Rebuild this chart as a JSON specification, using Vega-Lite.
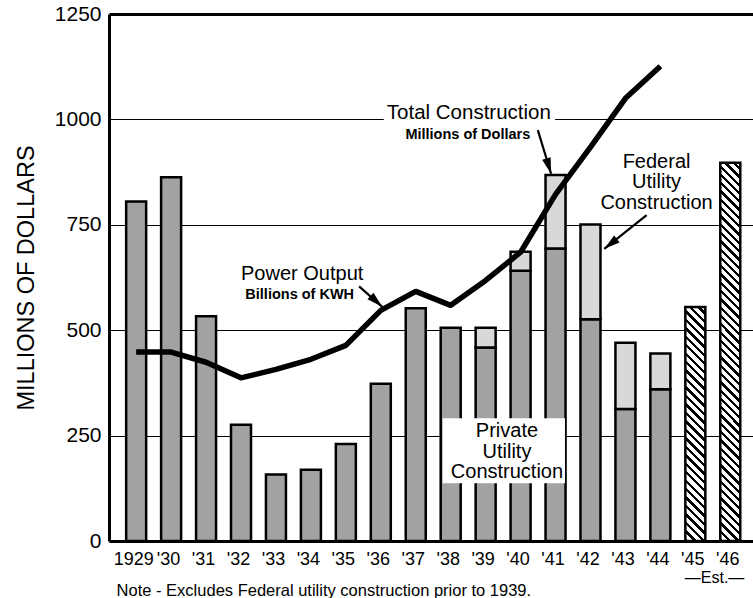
{
  "$schema": "https://vega.github.io/schema/vega-lite/v6.json",
  "width": 644,
  "height": 527,
  "autosize": "none",
  "padding": {"left": 109, "top": 14, "right": 0, "bottom": 57},
  "config": {"view": {"stroke": null}, "font": "Liberation Sans"},
  "data": {"values": [
    {"year": 1929, "private": 805, "total": 805, "power": 448},
    {"year": 1930, "private": 863, "total": 863, "power": 448},
    {"year": 1931, "private": 533, "total": 533, "power": 424},
    {"year": 1932, "private": 276, "total": 276, "power": 387},
    {"year": 1933, "private": 158, "total": 158, "power": 407},
    {"year": 1934, "private": 169, "total": 169, "power": 431},
    {"year": 1935, "private": 230, "total": 230, "power": 464},
    {"year": 1936, "private": 373, "total": 373, "power": 547},
    {"year": 1937, "private": 552, "total": 552, "power": 592},
    {"year": 1938, "private": 506, "total": 506, "power": 559},
    {"year": 1939, "private": 459, "total": 506, "power": 618},
    {"year": 1940, "private": 641, "total": 686, "power": 685},
    {"year": 1941, "private": 694, "total": 868, "power": 822},
    {"year": 1942, "private": 526, "total": 751, "power": 934},
    {"year": 1943, "private": 313, "total": 470, "power": 1050},
    {"year": 1944, "private": 360, "total": 445, "power": 1126},
    {"year": 1945, "est": 555},
    {"year": 1946, "est": 897}
  ]},
  "encoding": {
    "x": {
      "field": "year", "type": "quantitative",
      "scale": {"domain": [1928.366, 1946.507], "nice": false, "zero": false},
      "axis": {
        "values": [1929,1930,1931,1932,1933,1934,1935,1936,1937,1938,1939,1940,1941,1942,1943,1944,1945,1946],
        "labelExpr": "datum.value == 1929 ? '1929' : \"'\" + substring(toString(datum.value), 2, 4)",
        "title": null, "grid": false, "ticks": false,
        "domainColor": "black", "domainWidth": 3,
        "labelFontSize": 18, "labelColor": "black", "labelPadding": 9,
        "labelFlush": false, "labelOverlap": false, "labelBound": false, "labelOffset": -3
      }
    },
    "y": {
      "field": "private", "type": "quantitative", "stack": null,
      "scale": {"domain": [0, 1250], "nice": false},
      "axis": {
        "values": [0, 250, 500, 750, 1000, 1250], "format": "d",
        "title": "MILLIONS OF DOLLARS", "titleFontSize": 23.5, "titleFontWeight": "normal", "titleColor": "black", "titlePadding": 16,
        "grid": true, "gridColor": "black", "gridOpacity": 1,
        "gridWidth": {"condition": {"test": "datum.value == 1250", "value": 3}, "value": 1},
        "ticks": false, "domainColor": "black", "domainWidth": 3,
        "labelFontSize": 21, "labelColor": "black", "labelPadding": 8, "labelFlush": false
      }
    }
  },
  "layer": [
    {
      "transform": [{"filter": "datum.private != null"}],
      "mark": {"type": "bar", "width": 20, "fill": "#a2a2a2", "stroke": "black", "strokeWidth": 2.5}
    },
    {
      "transform": [{"filter": "datum.total > datum.private"}],
      "mark": {"type": "bar", "width": 20, "fill": "#d8d8d8", "stroke": "black", "strokeWidth": 2.5},
      "encoding": {
        "y2": {"field": "total"}
      }
    },
    {
      "transform": [{"filter": "datum.year == 1945"}],
      "mark": {"type": "bar", "width": 20, "stroke": "black", "strokeWidth": 2.5,
        "fill": {"gradient": "linear", "x1": 0, "y1": 1, "x2": 0.09218, "y2": -0.0776, "stops": [
          {"offset": 0, "color": "#000"}, {"offset": 0.0133, "color": "#000"}, {"offset": 0.0133, "color": "#fff"}, {"offset": 0.0333, "color": "#fff"},
          {"offset": 0.0333, "color": "#000"}, {"offset": 0.0467, "color": "#000"}, {"offset": 0.0467, "color": "#fff"}, {"offset": 0.0667, "color": "#fff"},
          {"offset": 0.0667, "color": "#000"}, {"offset": 0.08, "color": "#000"}, {"offset": 0.08, "color": "#fff"}, {"offset": 0.1, "color": "#fff"},
          {"offset": 0.1, "color": "#000"}, {"offset": 0.1133, "color": "#000"}, {"offset": 0.1133, "color": "#fff"}, {"offset": 0.1333, "color": "#fff"},
          {"offset": 0.1333, "color": "#000"}, {"offset": 0.1467, "color": "#000"}, {"offset": 0.1467, "color": "#fff"}, {"offset": 0.1667, "color": "#fff"},
          {"offset": 0.1667, "color": "#000"}, {"offset": 0.18, "color": "#000"}, {"offset": 0.18, "color": "#fff"}, {"offset": 0.2, "color": "#fff"},
          {"offset": 0.2, "color": "#000"}, {"offset": 0.2133, "color": "#000"}, {"offset": 0.2133, "color": "#fff"}, {"offset": 0.2333, "color": "#fff"},
          {"offset": 0.2333, "color": "#000"}, {"offset": 0.2467, "color": "#000"}, {"offset": 0.2467, "color": "#fff"}, {"offset": 0.2667, "color": "#fff"},
          {"offset": 0.2667, "color": "#000"}, {"offset": 0.28, "color": "#000"}, {"offset": 0.28, "color": "#fff"}, {"offset": 0.3, "color": "#fff"},
          {"offset": 0.3, "color": "#000"}, {"offset": 0.3133, "color": "#000"}, {"offset": 0.3133, "color": "#fff"}, {"offset": 0.3333, "color": "#fff"},
          {"offset": 0.3333, "color": "#000"}, {"offset": 0.3467, "color": "#000"}, {"offset": 0.3467, "color": "#fff"}, {"offset": 0.3667, "color": "#fff"},
          {"offset": 0.3667, "color": "#000"}, {"offset": 0.38, "color": "#000"}, {"offset": 0.38, "color": "#fff"}, {"offset": 0.4, "color": "#fff"},
          {"offset": 0.4, "color": "#000"}, {"offset": 0.4133, "color": "#000"}, {"offset": 0.4133, "color": "#fff"}, {"offset": 0.4333, "color": "#fff"},
          {"offset": 0.4333, "color": "#000"}, {"offset": 0.4467, "color": "#000"}, {"offset": 0.4467, "color": "#fff"}, {"offset": 0.4667, "color": "#fff"},
          {"offset": 0.4667, "color": "#000"}, {"offset": 0.48, "color": "#000"}, {"offset": 0.48, "color": "#fff"}, {"offset": 0.5, "color": "#fff"},
          {"offset": 0.5, "color": "#000"}, {"offset": 0.5133, "color": "#000"}, {"offset": 0.5133, "color": "#fff"}, {"offset": 0.5333, "color": "#fff"},
          {"offset": 0.5333, "color": "#000"}, {"offset": 0.5467, "color": "#000"}, {"offset": 0.5467, "color": "#fff"}, {"offset": 0.5667, "color": "#fff"},
          {"offset": 0.5667, "color": "#000"}, {"offset": 0.58, "color": "#000"}, {"offset": 0.58, "color": "#fff"}, {"offset": 0.6, "color": "#fff"},
          {"offset": 0.6, "color": "#000"}, {"offset": 0.6133, "color": "#000"}, {"offset": 0.6133, "color": "#fff"}, {"offset": 0.6333, "color": "#fff"},
          {"offset": 0.6333, "color": "#000"}, {"offset": 0.6467, "color": "#000"}, {"offset": 0.6467, "color": "#fff"}, {"offset": 0.6667, "color": "#fff"},
          {"offset": 0.6667, "color": "#000"}, {"offset": 0.68, "color": "#000"}, {"offset": 0.68, "color": "#fff"}, {"offset": 0.7, "color": "#fff"},
          {"offset": 0.7, "color": "#000"}, {"offset": 0.7133, "color": "#000"}, {"offset": 0.7133, "color": "#fff"}, {"offset": 0.7333, "color": "#fff"},
          {"offset": 0.7333, "color": "#000"}, {"offset": 0.7467, "color": "#000"}, {"offset": 0.7467, "color": "#fff"}, {"offset": 0.7667, "color": "#fff"},
          {"offset": 0.7667, "color": "#000"}, {"offset": 0.78, "color": "#000"}, {"offset": 0.78, "color": "#fff"}, {"offset": 0.8, "color": "#fff"},
          {"offset": 0.8, "color": "#000"}, {"offset": 0.8133, "color": "#000"}, {"offset": 0.8133, "color": "#fff"}, {"offset": 0.8333, "color": "#fff"},
          {"offset": 0.8333, "color": "#000"}, {"offset": 0.8467, "color": "#000"}, {"offset": 0.8467, "color": "#fff"}, {"offset": 0.8667, "color": "#fff"},
          {"offset": 0.8667, "color": "#000"}, {"offset": 0.88, "color": "#000"}, {"offset": 0.88, "color": "#fff"}, {"offset": 0.9, "color": "#fff"},
          {"offset": 0.9, "color": "#000"}, {"offset": 0.9133, "color": "#000"}, {"offset": 0.9133, "color": "#fff"}, {"offset": 0.9333, "color": "#fff"},
          {"offset": 0.9333, "color": "#000"}, {"offset": 0.9467, "color": "#000"}, {"offset": 0.9467, "color": "#fff"}, {"offset": 0.9667, "color": "#fff"},
          {"offset": 0.9667, "color": "#000"}, {"offset": 0.98, "color": "#000"}, {"offset": 0.98, "color": "#fff"}, {"offset": 1, "color": "#fff"}
        ]}},
      "encoding": {
        "y": {"field": "est", "type": "quantitative", "stack": null}
      }
    },
    {
      "transform": [{"filter": "datum.year == 1946"}],
      "mark": {"type": "bar", "width": 20, "stroke": "black", "strokeWidth": 2.5,
        "fill": {"gradient": "linear", "x1": 0, "y1": 1, "x2": 0.05559, "y2": -0.0501, "stops": [
          {"offset": 0, "color": "#000"}, {"offset": 0.0083, "color": "#000"}, {"offset": 0.0083, "color": "#fff"}, {"offset": 0.0208, "color": "#fff"},
          {"offset": 0.0208, "color": "#000"}, {"offset": 0.0291, "color": "#000"}, {"offset": 0.0291, "color": "#fff"}, {"offset": 0.0417, "color": "#fff"},
          {"offset": 0.0417, "color": "#000"}, {"offset": 0.05, "color": "#000"}, {"offset": 0.05, "color": "#fff"}, {"offset": 0.0625, "color": "#fff"},
          {"offset": 0.0625, "color": "#000"}, {"offset": 0.0708, "color": "#000"}, {"offset": 0.0708, "color": "#fff"}, {"offset": 0.0833, "color": "#fff"},
          {"offset": 0.0833, "color": "#000"}, {"offset": 0.0916, "color": "#000"}, {"offset": 0.0916, "color": "#fff"}, {"offset": 0.1042, "color": "#fff"},
          {"offset": 0.1042, "color": "#000"}, {"offset": 0.1125, "color": "#000"}, {"offset": 0.1125, "color": "#fff"}, {"offset": 0.125, "color": "#fff"},
          {"offset": 0.125, "color": "#000"}, {"offset": 0.1333, "color": "#000"}, {"offset": 0.1333, "color": "#fff"}, {"offset": 0.1458, "color": "#fff"},
          {"offset": 0.1458, "color": "#000"}, {"offset": 0.1541, "color": "#000"}, {"offset": 0.1541, "color": "#fff"}, {"offset": 0.1667, "color": "#fff"},
          {"offset": 0.1667, "color": "#000"}, {"offset": 0.175, "color": "#000"}, {"offset": 0.175, "color": "#fff"}, {"offset": 0.1875, "color": "#fff"},
          {"offset": 0.1875, "color": "#000"}, {"offset": 0.1958, "color": "#000"}, {"offset": 0.1958, "color": "#fff"}, {"offset": 0.2083, "color": "#fff"},
          {"offset": 0.2083, "color": "#000"}, {"offset": 0.2166, "color": "#000"}, {"offset": 0.2166, "color": "#fff"}, {"offset": 0.2292, "color": "#fff"},
          {"offset": 0.2292, "color": "#000"}, {"offset": 0.2375, "color": "#000"}, {"offset": 0.2375, "color": "#fff"}, {"offset": 0.25, "color": "#fff"},
          {"offset": 0.25, "color": "#000"}, {"offset": 0.2583, "color": "#000"}, {"offset": 0.2583, "color": "#fff"}, {"offset": 0.2708, "color": "#fff"},
          {"offset": 0.2708, "color": "#000"}, {"offset": 0.2791, "color": "#000"}, {"offset": 0.2791, "color": "#fff"}, {"offset": 0.2917, "color": "#fff"},
          {"offset": 0.2917, "color": "#000"}, {"offset": 0.3, "color": "#000"}, {"offset": 0.3, "color": "#fff"}, {"offset": 0.3125, "color": "#fff"},
          {"offset": 0.3125, "color": "#000"}, {"offset": 0.3208, "color": "#000"}, {"offset": 0.3208, "color": "#fff"}, {"offset": 0.3333, "color": "#fff"},
          {"offset": 0.3333, "color": "#000"}, {"offset": 0.3416, "color": "#000"}, {"offset": 0.3416, "color": "#fff"}, {"offset": 0.3542, "color": "#fff"},
          {"offset": 0.3542, "color": "#000"}, {"offset": 0.3625, "color": "#000"}, {"offset": 0.3625, "color": "#fff"}, {"offset": 0.375, "color": "#fff"},
          {"offset": 0.375, "color": "#000"}, {"offset": 0.3833, "color": "#000"}, {"offset": 0.3833, "color": "#fff"}, {"offset": 0.3958, "color": "#fff"},
          {"offset": 0.3958, "color": "#000"}, {"offset": 0.4041, "color": "#000"}, {"offset": 0.4041, "color": "#fff"}, {"offset": 0.4167, "color": "#fff"},
          {"offset": 0.4167, "color": "#000"}, {"offset": 0.425, "color": "#000"}, {"offset": 0.425, "color": "#fff"}, {"offset": 0.4375, "color": "#fff"},
          {"offset": 0.4375, "color": "#000"}, {"offset": 0.4458, "color": "#000"}, {"offset": 0.4458, "color": "#fff"}, {"offset": 0.4583, "color": "#fff"},
          {"offset": 0.4583, "color": "#000"}, {"offset": 0.4666, "color": "#000"}, {"offset": 0.4666, "color": "#fff"}, {"offset": 0.4792, "color": "#fff"},
          {"offset": 0.4792, "color": "#000"}, {"offset": 0.4875, "color": "#000"}, {"offset": 0.4875, "color": "#fff"}, {"offset": 0.5, "color": "#fff"},
          {"offset": 0.5, "color": "#000"}, {"offset": 0.5083, "color": "#000"}, {"offset": 0.5083, "color": "#fff"}, {"offset": 0.5208, "color": "#fff"},
          {"offset": 0.5208, "color": "#000"}, {"offset": 0.5291, "color": "#000"}, {"offset": 0.5291, "color": "#fff"}, {"offset": 0.5417, "color": "#fff"},
          {"offset": 0.5417, "color": "#000"}, {"offset": 0.55, "color": "#000"}, {"offset": 0.55, "color": "#fff"}, {"offset": 0.5625, "color": "#fff"},
          {"offset": 0.5625, "color": "#000"}, {"offset": 0.5708, "color": "#000"}, {"offset": 0.5708, "color": "#fff"}, {"offset": 0.5833, "color": "#fff"},
          {"offset": 0.5833, "color": "#000"}, {"offset": 0.5916, "color": "#000"}, {"offset": 0.5916, "color": "#fff"}, {"offset": 0.6042, "color": "#fff"},
          {"offset": 0.6042, "color": "#000"}, {"offset": 0.6125, "color": "#000"}, {"offset": 0.6125, "color": "#fff"}, {"offset": 0.625, "color": "#fff"},
          {"offset": 0.625, "color": "#000"}, {"offset": 0.6333, "color": "#000"}, {"offset": 0.6333, "color": "#fff"}, {"offset": 0.6458, "color": "#fff"},
          {"offset": 0.6458, "color": "#000"}, {"offset": 0.6541, "color": "#000"}, {"offset": 0.6541, "color": "#fff"}, {"offset": 0.6667, "color": "#fff"},
          {"offset": 0.6667, "color": "#000"}, {"offset": 0.675, "color": "#000"}, {"offset": 0.675, "color": "#fff"}, {"offset": 0.6875, "color": "#fff"},
          {"offset": 0.6875, "color": "#000"}, {"offset": 0.6958, "color": "#000"}, {"offset": 0.6958, "color": "#fff"}, {"offset": 0.7083, "color": "#fff"},
          {"offset": 0.7083, "color": "#000"}, {"offset": 0.7166, "color": "#000"}, {"offset": 0.7166, "color": "#fff"}, {"offset": 0.7292, "color": "#fff"},
          {"offset": 0.7292, "color": "#000"}, {"offset": 0.7375, "color": "#000"}, {"offset": 0.7375, "color": "#fff"}, {"offset": 0.75, "color": "#fff"},
          {"offset": 0.75, "color": "#000"}, {"offset": 0.7583, "color": "#000"}, {"offset": 0.7583, "color": "#fff"}, {"offset": 0.7708, "color": "#fff"},
          {"offset": 0.7708, "color": "#000"}, {"offset": 0.7791, "color": "#000"}, {"offset": 0.7791, "color": "#fff"}, {"offset": 0.7917, "color": "#fff"},
          {"offset": 0.7917, "color": "#000"}, {"offset": 0.8, "color": "#000"}, {"offset": 0.8, "color": "#fff"}, {"offset": 0.8125, "color": "#fff"},
          {"offset": 0.8125, "color": "#000"}, {"offset": 0.8208, "color": "#000"}, {"offset": 0.8208, "color": "#fff"}, {"offset": 0.8333, "color": "#fff"},
          {"offset": 0.8333, "color": "#000"}, {"offset": 0.8416, "color": "#000"}, {"offset": 0.8416, "color": "#fff"}, {"offset": 0.8542, "color": "#fff"},
          {"offset": 0.8542, "color": "#000"}, {"offset": 0.8625, "color": "#000"}, {"offset": 0.8625, "color": "#fff"}, {"offset": 0.875, "color": "#fff"},
          {"offset": 0.875, "color": "#000"}, {"offset": 0.8833, "color": "#000"}, {"offset": 0.8833, "color": "#fff"}, {"offset": 0.8958, "color": "#fff"},
          {"offset": 0.8958, "color": "#000"}, {"offset": 0.9041, "color": "#000"}, {"offset": 0.9041, "color": "#fff"}, {"offset": 0.9167, "color": "#fff"},
          {"offset": 0.9167, "color": "#000"}, {"offset": 0.925, "color": "#000"}, {"offset": 0.925, "color": "#fff"}, {"offset": 0.9375, "color": "#fff"},
          {"offset": 0.9375, "color": "#000"}, {"offset": 0.9458, "color": "#000"}, {"offset": 0.9458, "color": "#fff"}, {"offset": 0.9583, "color": "#fff"},
          {"offset": 0.9583, "color": "#000"}, {"offset": 0.9666, "color": "#000"}, {"offset": 0.9666, "color": "#fff"}, {"offset": 0.9792, "color": "#fff"},
          {"offset": 0.9792, "color": "#000"}, {"offset": 0.9875, "color": "#000"}, {"offset": 0.9875, "color": "#fff"}, {"offset": 1, "color": "#fff"}
        ]}},
      "encoding": {
        "y": {"field": "est", "type": "quantitative", "stack": null}
      }
    },
    {
      "data": {"values": [
        {"year": 1937.77, "year2": 1941.27, "val": 291, "val2": 137},
        {"year": 1936.085, "year2": 1940.986, "val": 1008, "val2": 994}
      ]},
      "mark": {"type": "rect", "fill": "white"},
      "encoding": {
        "x2": {"field": "year2"},
        "y": {"field": "val", "type": "quantitative"},
        "y2": {"field": "val2"}
      }
    },
    {
      "transform": [{"filter": "datum.power != null"}],
      "mark": {"type": "line", "color": "black", "strokeWidth": 5.5, "strokeJoin": "round", "strokeCap": "butt"},
      "encoding": {
        "y": {"field": "power", "type": "quantitative"}
      }
    },
    {
      "data": {"values": [
        {"year": 1940.493, "val": 974.5, "year2": 1940.873, "val2": 871},
        {"year": 1935.38, "val": 604, "year2": 1936.042, "val2": 555.5},
        {"year": 1943.606, "val": 773, "year2": 1942.394, "val2": 693}
      ]},
      "mark": {"type": "rule", "color": "black", "strokeWidth": 2.2},
      "encoding": {
        "x2": {"field": "year2"},
        "y": {"field": "val", "type": "quantitative"},
        "y2": {"field": "val2"}
      }
    },
    {
      "data": {"values": [{"year": 1940.873, "val": 871}]},
      "mark": {"type": "point", "shape": "M0,0L-0.5,1.8L0.5,1.8Z", "filled": true, "color": "black", "opacity": 1, "size": 316, "angle": 162.8},
      "encoding": {"y": {"field": "val", "type": "quantitative"}}
    },
    {
      "data": {"values": [{"year": 1936.042, "val": 555.5}]},
      "mark": {"type": "point", "shape": "M0,0L-0.5,1.8L0.5,1.8Z", "filled": true, "color": "black", "opacity": 1, "size": 316, "angle": 132.5},
      "encoding": {"y": {"field": "val", "type": "quantitative"}}
    },
    {
      "data": {"values": [{"year": 1942.394, "val": 693}]},
      "mark": {"type": "point", "shape": "M0,0L-0.5,1.8L0.5,1.8Z", "filled": true, "color": "black", "opacity": 1, "size": 316, "angle": 232.1},
      "encoding": {"y": {"field": "val", "type": "quantitative"}}
    },
    {
      "data": {"values": [{"year": 1938.52, "val": 1000, "label": "Total Construction"}]},
      "mark": {"type": "text", "fontSize": 20.5, "align": "center", "baseline": "alphabetic", "fill": "black"},
      "encoding": {
        "y": {"field": "val", "type": "quantitative"},
        "text": {"field": "label"}
      }
    },
    {
      "data": {"values": [
        {"year": 1938.49, "val": 962, "label": "Millions of Dollars"},
        {"year": 1933.68, "val": 584, "label": "Billions of KWH"}
      ]},
      "mark": {"type": "text", "fontSize": 14.5, "fontWeight": "bold", "align": "center", "baseline": "middle", "fill": "black"},
      "encoding": {
        "y": {"field": "val", "type": "quantitative"},
        "text": {"field": "label"}
      }
    },
    {
      "data": {"values": [
        {"year": 1933.75, "val": 633, "label": "Power Output"},
        {"year": 1943.89, "val": 900, "label": "Federal"},
        {"year": 1943.89, "val": 851, "label": "Utility"},
        {"year": 1943.89, "val": 802, "label": "Construction"},
        {"year": 1939.61, "val": 261, "label": "Private"},
        {"year": 1939.61, "val": 211, "label": "Utility"},
        {"year": 1939.61, "val": 163, "label": "Construction"}
      ]},
      "mark": {"type": "text", "fontSize": 20, "align": "center", "baseline": "middle", "fill": "black"},
      "encoding": {
        "y": {"field": "val", "type": "quantitative"},
        "text": {"field": "label"}
      }
    },
    {
      "data": {"values": [{"year": 1928.44, "val": -117.5, "label": "Note - Excludes Federal utility construction prior to 1939."}]},
      "mark": {"type": "text", "fontSize": 16.5, "align": "left", "baseline": "middle", "fill": "black"},
      "encoding": {
        "y": {"field": "val", "type": "quantitative"},
        "text": {"field": "label"}
      }
    },
    {
      "data": {"values": [{"year": 1945.55, "val": -86.6, "label": "—Est.—"}]},
      "mark": {"type": "text", "fontSize": 16, "align": "center", "baseline": "middle", "fill": "black"},
      "encoding": {
        "y": {"field": "val", "type": "quantitative"},
        "text": {"field": "label"}
      }
    }
  ]
}
